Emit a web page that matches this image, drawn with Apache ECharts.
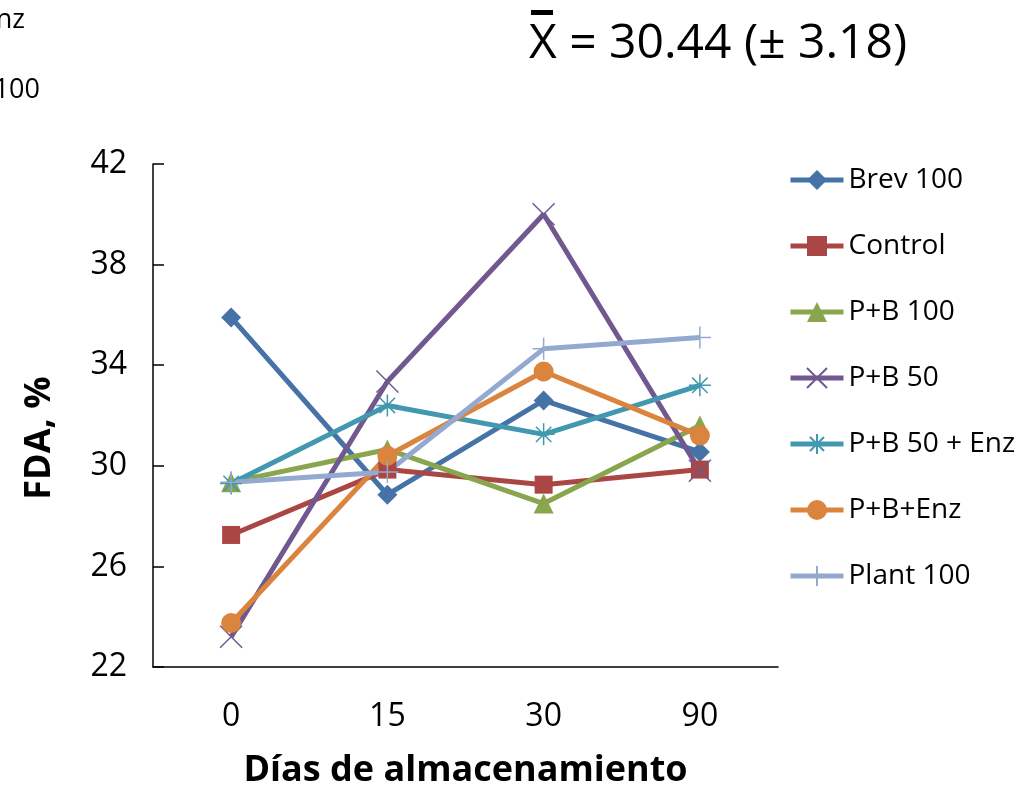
<!DOCTYPE html>
<html>
<head>
<meta charset="utf-8">
<script src="https://cdn.jsdelivr.net/npm/echarts@6/dist/echarts.min.js"></script>
<style>
html,body{margin:0;padding:0;background:#fff;}
#chart{width:1027px;height:794px;}
</style>
</head>
<body>
<div id="chart"></div>
<script>
const categories = ['0', '15', '30', '90'];
const seriesNames = ['Brev 100', 'Control', 'P+B 100', 'P+B 50', 'P+B 50 + Enz', 'P+B+Enz', 'Plant 100'];
const brev100  = [35.9, 28.85, 32.6, 30.55];
const control  = [27.25, 29.85, 29.25, 29.85];
const pb100    = [29.35, 30.65, 28.5, 31.6];
const pb50     = [23.2, 33.35, 40.0, 29.8];
const pb50enz  = [29.3, 32.4, 31.25, 33.2];
const pbenz    = [23.75, 30.4, 33.75, 31.2];
const plant100 = [29.35, 29.75, 34.65, 35.1];
const yMin = 22, yMax = 42, yStep = 4;
const titleText = 'X = 30.44 (± 3.18)';
const xName = 'Días de almacenamiento';
const yName = 'FDA, %';

const values = [brev100, control, pb100, pb50, pb50enz, pbenz, plant100];
const colors = ['#4572A7', '#AA4643', '#89A54E', '#71588F', '#4198AF', '#DB843D', '#93A9CF'];
const symbols = [
  'diamond',
  'rect',
  'triangle',
  'path://M0,0L10,10M10,0L0,10',
  'path://M5,0L5,10M0,5L10,5M1.5,1.5L8.5,8.5M8.5,1.5L1.5,8.5',
  'circle',
  'path://M5,0L5,10M0,5L10,5'
];
const sizes = [20, 18, 20, 22, 22, 20, 22];
const stroked = [false, false, false, true, true, false, true];
const FONT = '"Open Sans", "Noto Sans", sans-serif';

const chart = echarts.init(document.getElementById('chart'), null, {renderer: 'canvas'});

const series = seriesNames.map((n, i) => ({
  name: n,
  type: 'line',
  data: values[i],
  symbol: symbols[i],
  symbolSize: sizes[i],
  symbolKeepAspect: true,
  lineStyle: {width: 5, color: colors[i]},
  itemStyle: stroked[i]
    ? {color: colors[i], borderColor: colors[i], borderWidth: 1.5}
    : {color: colors[i], borderWidth: 0},
  emphasis: {disabled: true},
  animation: false
}));

chart.setOption({
  backgroundColor: '#fff',
  animation: false,
  color: colors,
  grid: {left: 153, right: 249, top: 164, bottom: 125, containLabel: false},
  legend: {
    orient: 'vertical',
    left: 788,
    top: 165,
    padding: 0,
    itemWidth: 53,
    itemHeight: 25,
    itemGap: 36,
    lineStyle: {width: 5},
    textStyle: {fontFamily: FONT, fontSize: 28, color: '#000', lineHeight: 30},
    data: seriesNames
  },
  xAxis: {
    type: 'category',
    data: categories,
    boundaryGap: true,
    axisLine: {lineStyle: {color: '#000', width: 1.5}},
    axisTick: {inside: true, length: 11, lineStyle: {color: '#000', width: 1.5}},
    axisLabel: {fontFamily: FONT, fontSize: 32, color: '#000', margin: 34},
    splitLine: {show: false},
    name: xName,
    nameLocation: 'middle',
    nameGap: 86,
    nameTextStyle: {fontFamily: FONT, fontSize: 36, fontWeight: 'bold', color: '#000'}
  },
  yAxis: {
    type: 'value',
    min: yMin,
    max: yMax,
    interval: yStep,
    axisLine: {show: true, lineStyle: {color: '#000', width: 1.5}},
    axisTick: {show: true, inside: true, length: 11, lineStyle: {color: '#000', width: 1.5}},
    axisLabel: {fontFamily: FONT, fontSize: 32, color: '#000', margin: 26},
    splitLine: {show: false}
  },
  graphic: [
    {type: 'text', left: 529, top: 20, style: {text: titleText, fontFamily: FONT, fontSize: 48, fill: '#000'}},
    {type: 'rect', shape: {x: 531, y: 10, width: 22, height: 5}, style: {fill: '#000'}},
    {type: 'text', x: 40, y: 438, rotation: Math.PI / 2, style: {text: yName, fontFamily: FONT, fontSize: 36, fontWeight: 'bold', fill: '#000', align: 'center', verticalAlign: 'middle'}},
    {type: 'text', x: 25, y: 20, style: {text: 'P+B 50 + Enz', fontFamily: FONT, fontSize: 27, fill: '#000', align: 'right', verticalAlign: 'middle'}},
    {type: 'text', x: 40, y: 90, style: {text: 'Plant 100', fontFamily: FONT, fontSize: 27, fill: '#000', align: 'right', verticalAlign: 'middle'}}
  ],
  series: series
});
</script>
</body>
</html>
